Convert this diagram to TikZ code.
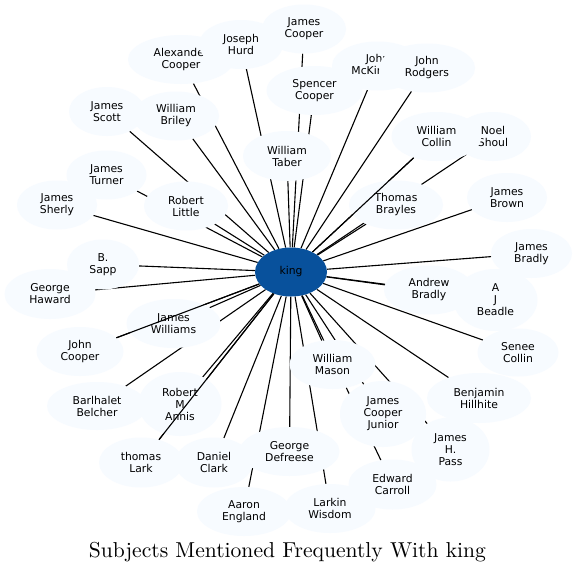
\documentclass[tikz,border=0pt]{standalone}
\usepackage{fontspec}
\usepackage{graphicx}
\newfontfamily\dejavu{DejaVu Sans}
\usetikzlibrary{shapes.geometric}
\definecolor{nodefill}{HTML}{F7FBFF}
\definecolor{kingfill}{HTML}{08519C}
\pgfdeclarelayer{edgelayer}
\pgfdeclarelayer{toplayer}
\pgfsetlayers{edgelayer,main,toplayer}
\tikzset{
  person/.style={ellipse, fill=nodefill, draw=none, inner sep=0pt, align=center,
    font=\dejavu\fontsize{10.8}{12}\selectfont},
  centre/.style={person, fill=kingfill},
  link/.style={draw=black, line width=1.1pt},
}
\newcommand\mkperson[6]{\node[person, minimum width=#4pt, minimum height=#5pt] (#1) at (#2,#3) {#6};}
\begin{document}
\begin{tikzpicture}[x=1pt,y=-1pt]
\useasboundingbox (0,0) rectangle (577,573);
\node[centre, minimum width=72pt, minimum height=49pt] (king) at (291,272) {king};
\mkperson{jc}{304}{29}{84}{49}{James\\Cooper}
\mkperson{ac}{181}{59.5}{106}{49}{Alexander\\Cooper}
\mkperson{jh}{241}{44.5}{84}{49}{Joseph\\Hurd}
\mkperson{jm}{377.5}{66}{91}{49}{John\\McKinney}
\mkperson{jr}{427}{68}{96}{49}{John\\Rodgers}
\mkperson{sc}{314.5}{90.5}{96}{49}{Spencer\\Cooper}
\mkperson{js}{107}{111.5}{76}{49}{James\\Scott}
\mkperson{wb}{176}{116}{86}{49}{William\\Briley}
\mkperson{ns}{493}{136.5}{76}{49}{Noel\\Shoul}
\mkperson{wc}{436.5}{136.5}{90}{49}{William\\Collin}
\mkperson{wt}{287}{156}{88}{50}{William\\Taber}
\mkperson{jt}{106.5}{175}{80}{49}{James\\Turner}
\mkperson{jsh}{57}{205}{80}{49}{James\\Sherly}
\mkperson{rl}{186}{206}{84}{49}{Robert\\Little}
\mkperson{tb}{396}{205}{94}{49}{Thomas\\Brayles}
\mkperson{jb}{507}{197.5}{80}{49}{James\\Brown}
\mkperson{bs}{103}{264.5}{72}{50}{B.\\Sapp}
\mkperson{jbr}{531.5}{253.5}{81}{49}{James\\Bradly}
\mkperson{gh}{50}{294}{91}{50}{George\\Haward}
\mkperson{ab}{429}{290}{90}{49}{Andrew\\Bradly}
\mkperson{ajb}{495.5}{300}{84}{62}{A\\J\\Beadle}
\mkperson{jw}{173.5}{323.5}{94}{49}{James\\Williams}
\mkperson{jco}{80}{351.5}{87}{49}{John\\Cooper}
\mkperson{snc}{518}{352.5}{81}{48}{Senee\\Collin}
\mkperson{wm}{332.5}{364.5}{86}{49}{William\\Mason}
\mkperson{bb}{97}{406}{100}{48}{Barlhalet\\Belcher}
\mkperson{rma}{180}{404}{83}{64}{Robert\\M\\Annis}
\mkperson{bh}{479}{398}{104}{50}{Benjamin\\Hillhite}
\mkperson{jcj}{383}{414}{86}{66}{James\\Cooper\\Junior}
\mkperson{jhp}{450.5}{449.5}{78}{64}{James\\H.\\Pass}
\mkperson{tl}{141}{462.5}{84}{50}{thomas\\Lark}
\mkperson{dc}{214}{462.5}{78}{50}{Daniel\\Clark}
\mkperson{gd}{289.5}{451.5}{100}{49}{George\\Defreese}
\mkperson{ec}{392.5}{484.5}{88}{50}{Edward\\Carroll}
\mkperson{ae}{244}{511.5}{94}{49}{Aaron\\England}
\mkperson{lw}{330}{508.5}{91}{49}{Larkin\\Wisdom}
\node[anchor=base, inner sep=0pt] (title) at (287.5,557.3)
  {\resizebox{397pt}{!}{Subjects Mentioned Frequently With king}};
\begin{pgfonlayer}{edgelayer}
  \fill[white] (0,0) rectangle (577,573);
  \foreach \n in {jc,ac,jh,jm,jr,sc,js,wb,ns,wc,wt,jt,jsh,rl,tb,jb,bs,jbr,gh,ab,ajb,jw,jco,snc,wm,bb,rma,bh,jcj,jhp,tl,dc,gd,ec,ae,lw}
    \draw[link] (king) -- (\n);
\end{pgfonlayer}
\begin{pgfonlayer}{toplayer}
  \draw[link] (king) -- (wc);
  \draw[link] (king) -- (jco);
  \draw[link] (king) -- (tl);
\end{pgfonlayer}
\end{tikzpicture}
\end{document}
